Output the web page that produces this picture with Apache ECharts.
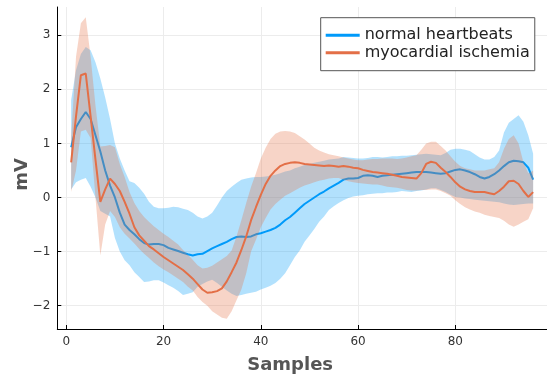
<!DOCTYPE html>
<html>
<head>
<meta charset="utf-8">
<script src="https://cdn.jsdelivr.net/npm/echarts@6/dist/echarts.min.js"></script>
<style>html,body{margin:0;padding:0;background:#fff}#chart{width:547px;height:380px}</style>
</head>
<body>
<div id="chart"></div>
<script>
var samples = [1,2,3,4,5,6,7,8,9,10,11,12,13,14,15,16,17,18,19,20,21,22,23,24,25,26,27,28,29,30,31,32,33,34,35,36,37,38,39,40,41,42,43,44,45,46,47,48,49,50,51,52,53,54,55,56,57,58,59,60,61,62,63,64,65,66,67,68,69,70,71,72,73,74,75,76,77,78,79,80,81,82,83,84,85,86,87,88,89,90,91,92,93,94,95,96];

var normalMean = [0.93,1.30,1.45,1.58,1.45,1.15,0.85,0.50,0.22,0.00,
 -0.28,-0.50,-0.60,-0.68,-0.77,-0.84,-0.87,-0.86,-0.86,-0.88,
 -0.93,-0.96,-0.99,-1.02,-1.05,-1.07,-1.05,-1.04,-0.99,-0.94,
 -0.90,-0.86,-0.82,-0.77,-0.73,-0.72,-0.73,-0.72,-0.68,-0.66,
 -0.63,-0.60,-0.56,-0.50,-0.42,-0.36,-0.28,-0.20,-0.12,-0.06,
 0.00,0.06,0.11,0.17,0.22,0.27,0.33,0.35,0.35,0.36,
 0.40,0.41,0.40,0.38,0.40,0.41,0.42,0.43,0.44,0.45,
 0.46,0.47,0.47,0.47,0.46,0.45,0.44,0.45,0.48,0.51,
 0.52,0.50,0.47,0.43,0.38,0.35,0.38,0.43,0.50,0.58,
 0.65,0.68,0.67,0.65,0.55,0.33];
var normalUpper = [1.80,2.35,2.65,2.78,2.72,2.50,2.20,1.85,1.45,1.00,
 0.72,0.50,0.30,0.27,0.18,0.07,-0.08,-0.17,-0.20,-0.20,
 -0.19,-0.17,-0.18,-0.21,-0.23,-0.28,-0.35,-0.39,-0.35,-0.28,
 -0.15,0.00,0.12,0.20,0.27,0.33,0.35,0.37,0.38,0.38,
 0.39,0.40,0.42,0.45,0.48,0.50,0.54,0.57,0.60,0.62,
 0.64,0.66,0.68,0.70,0.71,0.72,0.75,0.74,0.73,0.72,
 0.72,0.73,0.75,0.75,0.74,0.75,0.76,0.76,0.77,0.77,
 0.78,0.79,0.80,0.81,0.80,0.79,0.78,0.82,0.88,0.90,
 0.90,0.88,0.86,0.80,0.74,0.70,0.70,0.75,0.87,1.20,
 1.38,1.45,1.52,1.40,1.15,0.81];
var normalLower = [0.15,0.28,0.33,0.36,0.20,0.00,-0.25,-0.30,-0.35,-0.75,
 -1.00,-1.16,-1.25,-1.38,-1.47,-1.56,-1.55,-1.53,-1.53,-1.57,
 -1.62,-1.67,-1.73,-1.80,-1.78,-1.75,-1.65,-1.60,-1.55,-1.52,
 -1.58,-1.65,-1.72,-1.78,-1.82,-1.80,-1.78,-1.76,-1.74,-1.70,
 -1.67,-1.63,-1.58,-1.50,-1.40,-1.25,-1.10,-0.98,-0.82,-0.70,
 -0.58,-0.45,-0.35,-0.23,-0.16,-0.10,-0.05,-0.01,0.02,0.03,
 0.04,0.06,0.07,0.08,0.08,0.09,0.09,0.10,0.12,0.11,
 0.10,0.12,0.13,0.15,0.17,0.17,0.14,0.10,0.05,0.01,
 0.00,-0.02,-0.03,-0.04,-0.05,-0.06,-0.07,-0.08,-0.09,-0.11,
 -0.13,-0.14,-0.13,-0.12,-0.11,-0.11];

var ischemiaMean = [0.65,1.50,2.26,2.29,1.50,0.70,-0.08,0.15,0.35,0.25,
 0.12,-0.08,-0.30,-0.55,-0.70,-0.80,-0.90,-0.96,-1.03,-1.10,
 -1.16,-1.22,-1.28,-1.34,-1.42,-1.50,-1.60,-1.70,-1.76,-1.75,
 -1.73,-1.68,-1.55,-1.38,-1.20,-0.97,-0.72,-0.42,-0.18,0.05,
 0.25,0.40,0.50,0.58,0.62,0.64,0.65,0.64,0.62,0.61,
 0.60,0.59,0.58,0.59,0.58,0.57,0.58,0.57,0.55,0.54,
 0.51,0.49,0.47,0.46,0.45,0.44,0.42,0.40,0.38,0.37,
 0.36,0.35,0.45,0.62,0.66,0.64,0.55,0.47,0.38,0.28,
 0.20,0.15,0.12,0.10,0.10,0.10,0.08,0.06,0.12,0.20,
 0.30,0.31,0.25,0.12,0.01,0.10];
var ischemiaUpper = [1.10,2.60,3.22,3.33,2.60,1.70,0.94,0.95,0.97,0.93,
 0.62,0.38,0.10,-0.10,-0.25,-0.36,-0.45,-0.53,-0.60,-0.67,
 -0.73,-0.80,-0.87,-0.97,-1.06,-1.15,-1.25,-1.31,-1.30,-1.26,
 -1.20,-1.14,-1.08,-0.98,-0.72,-0.42,-0.10,0.20,0.45,0.72,
 0.92,1.08,1.18,1.22,1.23,1.22,1.19,1.13,1.07,1.00,
 0.92,0.87,0.83,0.80,0.78,0.76,0.74,0.72,0.70,0.69,
 0.69,0.70,0.71,0.71,0.72,0.72,0.72,0.71,0.72,0.74,
 0.76,0.78,0.88,1.00,1.03,1.03,0.95,0.87,0.76,0.66,
 0.58,0.54,0.52,0.50,0.50,0.50,0.52,0.54,0.65,0.90,
 1.08,1.15,1.00,0.65,0.45,0.50];
var ischemiaLower = [0.10,0.50,1.22,1.25,1.10,0.00,-1.07,-0.50,-0.25,-0.36,
 -0.55,-0.67,-0.76,-0.85,-0.95,-1.04,-1.12,-1.20,-1.27,-1.33,
 -1.38,-1.44,-1.50,-1.56,-1.65,-1.72,-1.84,-1.93,-2.00,-2.10,
 -2.16,-2.22,-2.24,-2.10,-1.90,-1.70,-1.40,-1.00,-0.78,-0.55,
 -0.38,-0.22,-0.12,-0.04,0.03,0.08,0.13,0.18,0.22,0.25,
 0.28,0.31,0.33,0.35,0.36,0.36,0.33,0.30,0.28,0.27,
 0.26,0.25,0.24,0.24,0.22,0.20,0.19,0.18,0.16,0.14,
 0.13,0.13,0.14,0.14,0.15,0.15,0.12,0.08,0.03,-0.05,
 -0.12,-0.18,-0.22,-0.26,-0.28,-0.32,-0.34,-0.36,-0.38,-0.43,
 -0.50,-0.54,-0.50,-0.45,-0.40,-0.20];

var xTicks = [0,20,40,60,80];
var yTicks = [-2,-1,0,1,2,3];
var seriesNames = ['normal heartbeats','myocardial ischemia'];
var xTitle = 'Samples';
var yTitle = 'mV';

function pairs(ys){ return samples.map(function(x,i){ return [x, ys[i]]; }); }
function triples(lo, up){ return samples.map(function(x,i){ return [x, lo[i], up[i]]; }); }
function fmt(v){ return String(v).replace('-', '\u2212'); }

var BLUE = '#009AFA', ORANGE = '#E36F47';
var FONT = 'DejaVu Sans';

function band(name, data, color, z){
  return {
    name: name, type:'custom', silent:true, data: data, z: z,
    encode:{x:0, y:[1,2]},
    renderItem: function(params, api){
      if (params.dataIndex !== 0) return null;
      var n = data.length, pts = [], i;
      for (i = 0; i < n; i++) pts.push(api.coord([data[i][0], data[i][2]]));
      for (i = n - 1; i >= 0; i--) pts.push(api.coord([data[i][0], data[i][1]]));
      return { type:'polygon', shape:{points: pts}, style:{fill: color, stroke:null}, silent:true };
    },
    animation:false
  };
}

var chart = echarts.init(document.getElementById('chart'), null, {renderer:'canvas'});
chart.setOption({
  animation:false,
  backgroundColor:'#ffffff',
  textStyle:{fontFamily:FONT},
  grid:{left:57.3, right:0, top:7, bottom:51, containLabel:false, outerBoundsMode:'none'},
  graphic:[{
    type:'text', x:22.5, y:174.5, rotation:Math.PI/2, silent:true,
    style:{text:yTitle, fontFamily:FONT, fontSize:18, fontWeight:'bold', fill:'#555555',
      align:'center', verticalAlign:'middle'}
  }],
  legend:{
    data: seriesNames, z: 20,
    orient:'vertical', left:320.7, top:17.7,
    backgroundColor:'#ffffff', borderColor:'#555555', borderWidth:1, borderRadius:0,
    padding:[9.6,5,10,5], itemGap:1.4, itemWidth:34, itemHeight:3, icon:'rect',
    textStyle:{fontFamily:FONT, fontSize:16, color:'#222222', lineHeight:16}
  },
  xAxis:{
    type:'value', min:-1.85, max:98.85,
    name:xTitle, nameLocation:'middle', nameGap:27,
    nameTextStyle:{fontFamily:FONT, fontSize:18, fontWeight:'bold', color:'#555555', padding:[0,24,0,0]},
    axisLine:{show:true, onZero:false, lineStyle:{color:'#000000', width:1}},
    axisTick:{show:true, inside:true, length:4, customValues:xTicks, lineStyle:{color:'#000000'}},
    axisLabel:{customValues:xTicks, formatter:fmt, fontFamily:FONT, fontSize:12, color:'#333333', margin:7},
    splitLine:{show:true, lineStyle:{color:'#ececec', width:1}}
  },
  yAxis:{
    type:'value', min:-2.43, max:3.52,
    axisLine:{show:true, onZero:false, lineStyle:{color:'#000000', width:1}},
    axisTick:{show:true, inside:true, length:4, customValues:yTicks, lineStyle:{color:'#000000'}},
    axisLabel:{customValues:yTicks, formatter:fmt, fontFamily:FONT, fontSize:12, color:'#333333', margin:7},
    splitLine:{show:true, lineStyle:{color:'#ececec', width:1}}
  },
  series:[
    band('normal band', triples(normalLower, normalUpper), 'rgba(0,154,250,0.3)', 2),
    { name:seriesNames[0], type:'line', data:pairs(normalMean), symbol:'none', color:BLUE, z:3,
      lineStyle:{color:BLUE, width:2}, emphasis:{disabled:true} },
    band('ischemia band', triples(ischemiaLower, ischemiaUpper), 'rgba(227,111,71,0.3)', 4),
    { name:seriesNames[1], type:'line', data:pairs(ischemiaMean), symbol:'none', color:ORANGE, z:5,
      lineStyle:{color:ORANGE, width:2}, emphasis:{disabled:true} }
  ]
});
</script>
</body>
</html>
